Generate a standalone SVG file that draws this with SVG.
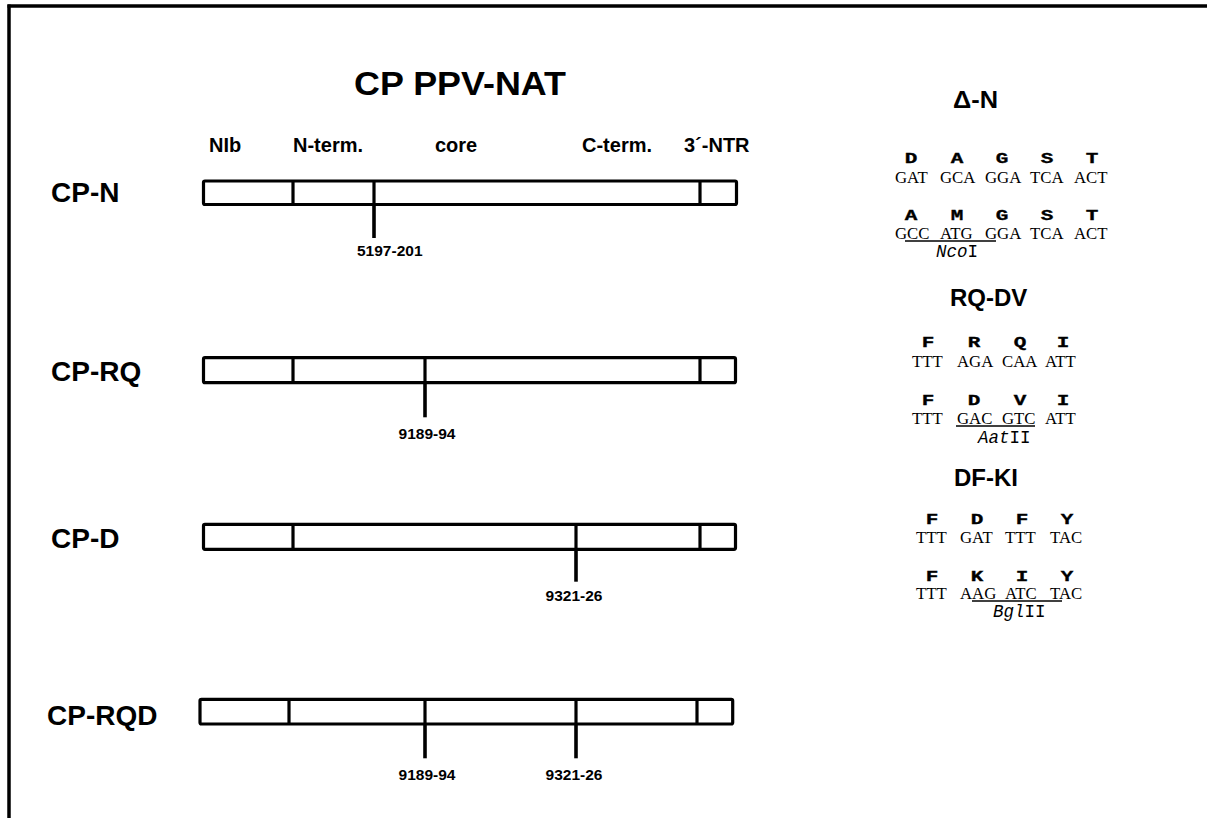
<svg xmlns="http://www.w3.org/2000/svg" width="1207" height="818" viewBox="0 0 1207 818">
<style>
.frame{stroke:#000;stroke-width:3.5;fill:none}
.box{fill:#fff;stroke:#000;stroke-width:3.2}
.div{stroke:#000;stroke-width:3.2}
.tick{stroke:#000;stroke-width:3.6}
.ul{stroke:#000;stroke-width:1.3}
.lbl{font-family:"Liberation Sans",Arial,sans-serif;font-weight:bold;font-size:28px;fill:#000}
.title{font-family:"Liberation Sans",Arial,sans-serif;font-weight:bold;font-size:33px;fill:#000}
.col{font-family:"Liberation Sans",Arial,sans-serif;font-weight:bold;font-size:20px;fill:#000}
.pos{font-family:"Liberation Sans",Arial,sans-serif;font-weight:bold;font-size:15.5px;fill:#000;text-anchor:middle}
.hdr{font-family:"Liberation Sans",Arial,sans-serif;font-weight:bold;font-size:24px;fill:#000}
.aa{font-family:"Liberation Mono","Courier New",monospace;font-weight:bold;font-size:14px;fill:#000;text-anchor:middle;stroke:#000;stroke-width:0.3}
.dna{font-family:"Liberation Serif","Times New Roman",serif;font-size:16.8px;fill:#000}
.enz{font-family:"Liberation Mono","Courier New",monospace;font-size:17.5px;fill:#000}
.it{font-style:italic}
</style>
<rect width="1207" height="818" fill="#fff"/>
<g id="frame">
<line class="frame" x1="7.5" y1="6" x2="1207" y2="6"/>
<line class="frame" x1="9" y1="4.5" x2="9" y2="818"/>
</g>
<g id="title">
<text class="title" x="354" y="95" textLength="212" lengthAdjust="spacingAndGlyphs">CP PPV-NAT</text>
</g>
<g id="columns">
<text class="col" x="209" y="152">NIb</text>
<text class="col" x="293" y="152">N-term.</text>
<text class="col" x="435" y="152">core</text>
<text class="col" x="582" y="152">C-term.</text>
<text class="col" x="684" y="152">3´-NTR</text>
</g>
<g id="cp-n">
<text class="lbl" x="51" y="202">CP-N</text>
<rect class="box" x="203.5" y="181" width="533" height="23.5" rx="1.5"/>
<line class="div" x1="293" y1="181" x2="293" y2="204.5"/>
<line class="div" x1="374" y1="181" x2="374" y2="204.5"/>
<line class="div" x1="700" y1="181" x2="700" y2="204.5"/>
</g>
<g id="cp-rq">
<text class="lbl" x="51" y="381">CP-RQ</text>
<rect class="box" x="203.5" y="357.7" width="532" height="25" rx="1.5"/>
<line class="div" x1="293" y1="357.7" x2="293" y2="382.7"/>
<line class="div" x1="425" y1="357.7" x2="425" y2="382.7"/>
<line class="div" x1="700" y1="357.7" x2="700" y2="382.7"/>
</g>
<g id="cp-d">
<text class="lbl" x="51" y="548">CP-D</text>
<rect class="box" x="203.5" y="524.3" width="532" height="25" rx="1.5"/>
<line class="div" x1="293" y1="524.3" x2="293" y2="549.3"/>
<line class="div" x1="576" y1="524.3" x2="576" y2="549.3"/>
<line class="div" x1="700" y1="524.3" x2="700" y2="549.3"/>
</g>
<g id="cp-rqd">
<text class="lbl" x="47" y="725">CP-RQD</text>
<rect class="box" x="200" y="699.3" width="532.7" height="24.7" rx="1.5"/>
<line class="div" x1="289" y1="699.3" x2="289" y2="724"/>
<line class="div" x1="425" y1="699.3" x2="425" y2="724"/>
<line class="div" x1="576" y1="699.3" x2="576" y2="724"/>
<line class="div" x1="697" y1="699.3" x2="697" y2="724"/>
</g>
<g id="connectors">
<line class="tick" x1="374" y1="204.5" x2="374" y2="238"/>
<line class="tick" x1="425" y1="382.7" x2="425" y2="417.3"/>
<line class="tick" x1="576" y1="549.3" x2="576" y2="581.7"/>
<line class="tick" x1="425" y1="724" x2="425" y2="758.3"/>
<line class="tick" x1="576" y1="724" x2="576" y2="758.3"/>
</g>
<g id="positions">
<text class="pos" x="357" y="256" style="text-anchor:start">5197-201</text>
<text class="pos" x="427" y="439">9189-94</text>
<text class="pos" x="574" y="601">9321-26</text>
<text class="pos" x="427" y="780">9189-94</text>
<text class="pos" x="574" y="780">9321-26</text>
</g>
<g id="delta-n">
<text class="hdr" x="953" y="108" font-size="20" textLength="45" lengthAdjust="spacingAndGlyphs">Δ-N</text>
<text class="aa" transform="matrix(1.5 0 0 1 911 163)">D</text>
<text class="aa" transform="matrix(1.5 0 0 1 957 163)">A</text>
<text class="aa" transform="matrix(1.5 0 0 1 1002 163)">G</text>
<text class="aa" transform="matrix(1.5 0 0 1 1047 163)">S</text>
<text class="aa" transform="matrix(1.5 0 0 1 1092 163)">T</text>
<text class="dna" y="183"><tspan x="895">GAT</tspan><tspan x="940">GCA</tspan><tspan x="985">GGA</tspan><tspan x="1030">TCA</tspan><tspan x="1074">ACT</tspan></text>
<text class="aa" transform="matrix(1.5 0 0 1 911 220)">A</text>
<text class="aa" transform="matrix(1.5 0 0 1 957 220)">M</text>
<text class="aa" transform="matrix(1.5 0 0 1 1002 220)">G</text>
<text class="aa" transform="matrix(1.5 0 0 1 1047 220)">S</text>
<text class="aa" transform="matrix(1.5 0 0 1 1092 220)">T</text>
<text class="dna" y="239"><tspan x="895">GCC</tspan><tspan x="940">ATG</tspan><tspan x="985">GGA</tspan><tspan x="1030">TCA</tspan><tspan x="1074">ACT</tspan></text>
<line class="ul" x1="905" y1="241" x2="996" y2="241"/>
<text class="enz" x="936" y="257"><tspan class="it">Nco</tspan>I</text>
</g>
<g id="rq-dv">
<text class="hdr" x="950" y="306">RQ-DV</text>
<text class="aa" transform="matrix(1.5 0 0 1 928 347)">F</text>
<text class="aa" transform="matrix(1.5 0 0 1 974 347)">R</text>
<text class="aa" transform="matrix(1.5 0 0 1 1020 347)">Q</text>
<text class="aa" transform="matrix(1.5 0 0 1 1063 347)">I</text>
<text class="dna" y="367"><tspan x="912">TTT</tspan><tspan x="957">AGA</tspan><tspan x="1002">CAA</tspan><tspan x="1045">ATT</tspan></text>
<text class="aa" transform="matrix(1.5 0 0 1 928 405)">F</text>
<text class="aa" transform="matrix(1.5 0 0 1 974 405)">D</text>
<text class="aa" transform="matrix(1.5 0 0 1 1020 405)">V</text>
<text class="aa" transform="matrix(1.5 0 0 1 1063 405)">I</text>
<text class="dna" y="424"><tspan x="912">TTT</tspan><tspan x="957">GAC</tspan><tspan x="1002">GTC</tspan><tspan x="1045">ATT</tspan></text>
<line class="ul" x1="956" y1="426" x2="1035" y2="426"/>
<text class="enz" x="978" y="443" font-size="18"><tspan class="it">Aat</tspan>II</text>
</g>
<g id="df-ki">
<text class="hdr" x="954" y="486">DF-KI</text>
<text class="aa" transform="matrix(1.5 0 0 1 932 524)">F</text>
<text class="aa" transform="matrix(1.5 0 0 1 977 524)">D</text>
<text class="aa" transform="matrix(1.5 0 0 1 1022 524)">F</text>
<text class="aa" transform="matrix(1.5 0 0 1 1067 524)">Y</text>
<text class="dna" y="543"><tspan x="916">TTT</tspan><tspan x="960">GAT</tspan><tspan x="1005">TTT</tspan><tspan x="1050">TAC</tspan></text>
<text class="aa" transform="matrix(1.5 0 0 1 932 581)">F</text>
<text class="aa" transform="matrix(1.5 0 0 1 977 581)">K</text>
<text class="aa" transform="matrix(1.5 0 0 1 1022 581)">I</text>
<text class="aa" transform="matrix(1.5 0 0 1 1067 581)">Y</text>
<text class="dna" y="599"><tspan x="916">TTT</tspan><tspan x="960">AAG</tspan><tspan x="1005">ATC</tspan><tspan x="1050">TAC</tspan></text>
<line class="ul" x1="972" y1="601" x2="1062" y2="601"/>
<text class="enz" x="993" y="617" font-size="18"><tspan class="it">Bgl</tspan>II</text>
</g>
</svg>
